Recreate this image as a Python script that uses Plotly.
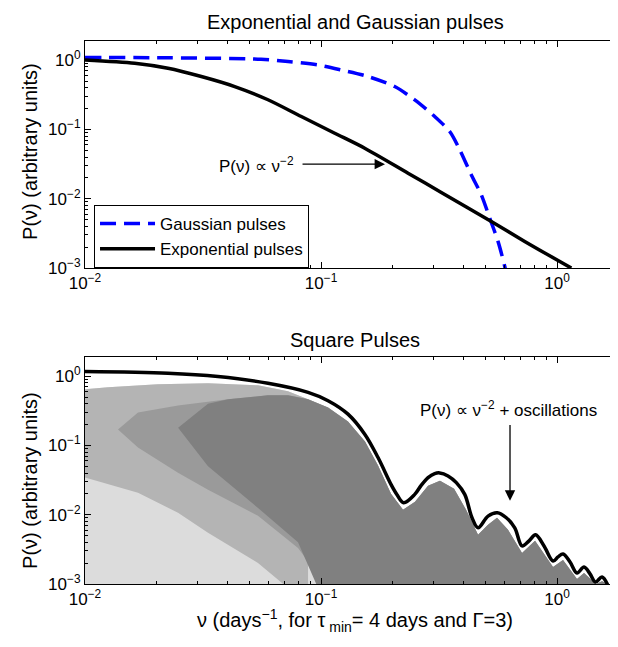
import plotly.graph_objects as go

# ---------------- data ----------------
# Top panel: Gaussian pulses spectrum
gauss_nu = [0.0100, 0.0204, 0.0557, 0.0725, 0.0971, 0.1219, 0.1582, 0.2052, 0.2495,
            0.3032, 0.3510, 0.3844, 0.4335, 0.4776, 0.5186, 0.5623, 0.6002, 0.6081]
gauss_p = [1.094, 1.087, 1.034, 0.958, 0.855, 0.724, 0.582, 0.417, 0.267,
           0.154, 0.0936, 0.0537, 0.0221, 0.0114, 0.00525, 0.00242, 0.00106, 0.00085]

# Top panel: Exponential pulses spectrum
exp_nu = [0.0100, 0.01624, 0.02247, 0.03111, 0.04309, 0.0596, 0.0825, 0.1143, 0.1532,
          0.2337, 0.3233, 0.5268, 0.7296, 1.1498]
exp_p = [1.01, 0.905, 0.767, 0.582, 0.417, 0.269, 0.154, 0.0884, 0.0537,
         0.0234, 0.01233, 0.0047, 0.00242, 0.000997]

# Bottom panel: square pulses model curve
sq_nu = [0.0100, 0.02247, 0.0366, 0.0596, 0.0881, 0.1071, 0.1301, 0.1532, 0.1744, 0.1979,
         0.2099, 0.2240, 0.2495, 0.2652, 0.2841, 0.3032, 0.3184, 0.3452, 0.3744, 0.4064,
         0.4363, 0.4627, 0.5101, 0.5585, 0.6098, 0.6621, 0.7108, 0.7611, 0.8108, 0.8809,
         0.9618, 1.0098, 1.0603, 1.1353, 1.2152, 1.3014, 1.3797, 1.4556, 1.5508, 1.6368]
sq_p = [1.17, 1.105, 0.99, 0.792, 0.586, 0.444, 0.284, 0.1458, 0.0670, 0.0275,
        0.0195, 0.01493, 0.01969, 0.0263, 0.0344, 0.0393, 0.0402, 0.0364, 0.0291, 0.0197,
        0.00905, 0.00648, 0.00957, 0.01069, 0.00905, 0.00648, 0.00355, 0.0042, 0.00513, 0.00355,
        0.00215, 0.00246, 0.00272, 0.00208, 0.00144, 0.00176, 0.0014, 0.00107, 0.00126, 0.00098]

# Bottom panel: simulated periodogram cloud, drawn as envelopes of its density zones
cloud_nu_top = [0.0100, 0.01252, 0.02038, 0.03320, 0.05407, 0.07248, 0.0881, 0.1071, 0.1301,
                0.1536, 0.1744, 0.1979, 0.2226, 0.2502, 0.2841, 0.3192, 0.3662, 0.4116,
                0.4627, 0.5101, 0.5568, 0.6199, 0.7108, 0.8069, 0.9618, 1.0603, 1.2152,
                1.3014, 1.4630, 1.5508, 1.6448, 1.8134]
cloud_p_top = [0.648, 0.693, 0.766, 0.792, 0.741, 0.606, 0.464, 0.3554, 0.2228,
               0.1143, 0.0513, 0.02015, 0.01182, 0.01543, 0.02633, 0.0311, 0.02381, 0.01182,
               0.00513, 0.00716, 0.00905, 0.00606, 0.00281, 0.0042, 0.00176, 0.00223, 0.00118,
               0.00144, 0.00100, 0.00110, 0.00100, 0.00089]
cloud_floor = 0.00085

med_nu_low = [0.0100, 0.01677, 0.02478, 0.03320, 0.05407, 0.07248, 0.0881]
med_p_low = [0.0344, 0.02084, 0.01069, 0.00548, 0.002015, 0.000875, 0.000875]

dark_nu_top_left = [0.0138, 0.01677, 0.02478, 0.04036, 0.05963, 0.07248]
dark_p_top_left = [0.17, 0.3008, 0.38, 0.464, 0.530, 0.530]
dark_nu_low = [0.0138, 0.01677, 0.02478, 0.03320, 0.05407, 0.07989, 0.1071, 1.8134]
dark_p_low = [0.17, 0.0935, 0.0406, 0.02304, 0.00967, 0.00332, 0.000875, 0.000875]

dense_nu_top_left = [0.0248, 0.0332, 0.0404, 0.0596, 0.0725]
dense_p_top_left = [0.18, 0.40, 0.464, 0.53, 0.53]
dense_nu_low = [0.0248, 0.0332, 0.0541, 0.0799, 0.0971, 1.8134]
dense_p_low = [0.18, 0.05, 0.0125, 0.004, 0.000875, 0.000875]

x_tickvals = [0.01, 0.1, 1]
x_ticktext = ["10<sup>\u22122</sup>", "10<sup>\u22121</sup>", "10<sup>0</sup>"]
y_tickvals = [0.001, 0.01, 0.1, 1]
y_ticktext = ["10<sup>\u22123</sup>", "10<sup>\u22122</sup>", "10<sup>\u22121</sup>", "10<sup>0</sup>"]
x_minor = [m * d for d in (0.01, 0.1) for m in range(2, 10)]
y_minor = [m * d for d in (0.001, 0.01, 0.1) for m in range(2, 10)]

FONT = "Liberation Sans, Arial, Helvetica, sans-serif"

fig = go.Figure()

# ---------------- top panel ----------------
fig.add_trace(go.Scatter(x=gauss_nu, y=gauss_p, mode="lines", name="Gaussian pulses",
                         line=dict(color="#0000ff", width=3.5, dash="16px,8px",
                                   shape="spline", smoothing=0.8),
                         xaxis="x", yaxis="y"))
fig.add_trace(go.Scatter(x=exp_nu, y=exp_p, mode="lines", name="Exponential pulses",
                         line=dict(color="black", width=3.5, shape="spline", smoothing=0.8),
                         xaxis="x", yaxis="y"))

# ---------------- bottom panel ----------------
def zone(xs, ys, color):
    fig.add_trace(go.Scatter(x=xs, y=ys, mode="lines", fill="toself", fillcolor=color,
                             line=dict(width=0), showlegend=False, hoverinfo="skip",
                             xaxis="x2", yaxis="y2"))

zone(cloud_nu_top + [cloud_nu_top[-1], cloud_nu_top[0]],
     cloud_p_top + [cloud_floor, cloud_floor], "#dcdcdc")
zone(cloud_nu_top[:7] + med_nu_low[::-1],
     cloud_p_top[:7] + med_p_low[::-1], "#b4b4b4")
zone(dark_nu_top_left + cloud_nu_top[6:] + dark_nu_low[::-1],
     dark_p_top_left + cloud_p_top[6:] + dark_p_low[::-1], "#9a9a9a")
zone(dense_nu_top_left + cloud_nu_top[6:] + dense_nu_low[::-1],
     dense_p_top_left + cloud_p_top[6:] + dense_p_low[::-1], "#808080")

fig.add_trace(go.Scatter(x=sq_nu, y=sq_p, mode="lines", showlegend=False,
                         line=dict(color="black", width=3.5, shape="spline", smoothing=1.0),
                         xaxis="x2", yaxis="y2"))

axis_common = dict(type="log", showline=True, linecolor="black", linewidth=1,
                   mirror="ticks", ticks="inside", ticklen=6, tickcolor="black",
                   showgrid=False, zeroline=False,
                   tickfont=dict(family=FONT, size=17, color="black"))
minor_x = dict(tickmode="array", tickvals=x_minor, ticks="inside", ticklen=3, tickcolor="black")
minor_y = dict(tickmode="array", tickvals=y_minor, ticks="inside", ticklen=3, tickcolor="black")

xr = [-2, 0.288]
yr = [-3, 0.278]

fig.update_layout(
    width=618, height=647,
    margin=dict(l=77, r=1, t=33, b=71),
    paper_bgcolor="white", plot_bgcolor="white",
    font=dict(family=FONT, size=17, color="black"),
    xaxis=dict(axis_common, range=xr, domain=[0, 1], anchor="y",
               tickmode="array", tickvals=x_tickvals, ticktext=x_ticktext, minor=minor_x),
    yaxis=dict(axis_common, range=yr, domain=[0.582, 1], anchor="x",
               tickmode="array", tickvals=y_tickvals, ticktext=y_ticktext, minor=minor_y),
    xaxis2=dict(axis_common, range=xr, domain=[0, 1], anchor="y2",
                tickmode="array", tickvals=x_tickvals, ticktext=x_ticktext, minor=minor_x),
    yaxis2=dict(axis_common, range=yr, domain=[0, 0.418], anchor="x2",
                tickmode="array", tickvals=y_tickvals, ticktext=y_ticktext, minor=minor_y),
    legend=dict(x=0.0167, y=0.698, xanchor="left", yanchor="top",
                bgcolor="white", bordercolor="black", borderwidth=1,
                font=dict(family=FONT, size=17, color="black"),
                itemwidth=55, tracegroupgap=0),
    showlegend=True,
    hovermode=False,
)

ann = []
ann.append(dict(text="Exponential and Gaussian pulses", xref="paper", yref="paper",
                x=0.5, y=1.035, xanchor="center", yanchor="middle", showarrow=False,
                font=dict(family=FONT, size=20, color="black")))
ann.append(dict(text="Square Pulses", xref="paper", yref="paper",
                x=0.5, y=0.4494, xanchor="center", yanchor="middle", showarrow=False,
                font=dict(family=FONT, size=20, color="black")))
for yc in (0.7974, 0.1915):
    ann.append(dict(text="P(\u03bd) (arbitrary units)", xref="paper", yref="paper",
                    x=-0.102, y=yc, xanchor="center", yanchor="middle", textangle=-90,
                    showarrow=False, font=dict(family=FONT, size=20, color="black")))
ann.append(dict(text="\u03bd (days<sup>\u22121</sup>, for \u03c4<sub> min</sub>= 4 days and \u0393=3)",
                xref="paper", yref="paper", x=0.5, y=-0.068, xanchor="center",
                yanchor="middle", showarrow=False,
                font=dict(family=FONT, size=20, color="black")))
ann.append(dict(x=-0.7288, y=-1.5007, ax=-1.0847, ay=-1.5007, xref="x", yref="y",
                axref="x", ayref="y", text="", showarrow=True, arrowhead=2,
                arrowsize=1.6, arrowwidth=1.3, arrowcolor="black"))
ann.append(dict(x=-1.106, y=-1.51, xref="x", yref="y", xanchor="right", yanchor="middle",
                text="P(\u03bd) \u221d \u03bd<sup>\u22122</sup>", showarrow=False,
                font=dict(family=FONT, size=17, color="black")))
ann.append(dict(x=-0.1992, y=-1.797, ax=-0.1992, ay=-0.681, xref="x2", yref="y2",
                axref="x2", ayref="y2", text="", showarrow=True, arrowhead=2,
                arrowsize=1.6, arrowwidth=1.3, arrowcolor="black"))
ann.append(dict(x=-0.2076, y=-0.478, xref="x2", yref="y2", xanchor="center",
                yanchor="middle",
                text="P(\u03bd) \u221d \u03bd<sup>\u22122</sup> + oscillations", showarrow=False,
                font=dict(family=FONT, size=17, color="black")))
fig.update_layout(annotations=ann)

fig.write_html("out.html")
